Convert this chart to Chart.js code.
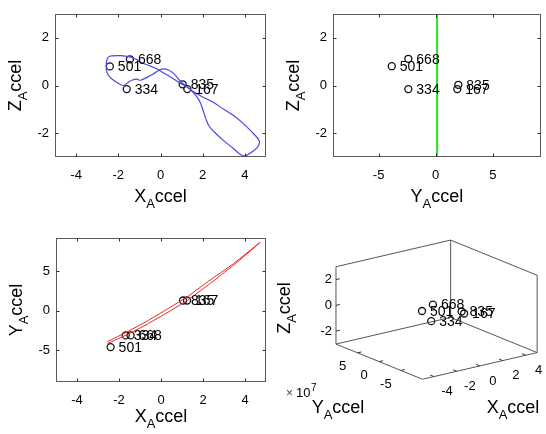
<!DOCTYPE html>
<html>
<head>
<meta charset="utf-8">
<script src="https://cdn.jsdelivr.net/npm/chart.js@4/dist/chart.umd.min.js"></script>
<style>
  body { margin: 0; background: #fff; }
  .panel { position: absolute; width: 273px; height: 217px; }
  canvas { display: block; }
</style>
</head>
<body>
<div class="panel" style="left:0;top:0"><canvas id="xz" width="273" height="217"></canvas></div>
<div class="panel" style="left:273px;top:0"><canvas id="yz" width="273" height="217"></canvas></div>
<div class="panel" style="left:0;top:217px"><canvas id="xy" width="273" height="217"></canvas></div>
<div class="panel" style="left:273px;top:217px"><canvas id="xyz" width="273" height="217"></canvas></div>
<script>
// --- data ---
const markLabels = ['167', '334', '501', '668', '835'];

// X-Z panel (top left)
const xzX = [1.27, -1.6, -2.4, -1.45, 1.05];
const xzZ = [-0.15, -0.15, 0.8, 1.1, 0.05];
const blueX = [1.40, 1.15, 0.92, 0.61, 0.35, 0.15, -0.05, -0.35, -0.65, -0.95, -1.13, -1.30, -1.52, -1.76,
  -2.05, -2.39, -2.55, -2.57, -2.55, -2.46, -2.30, -1.90, -1.45, -1.15, -0.95, -0.55, -0.18, 0.15, 0.45,
  0.75, 1.00, 1.25, 1.55, 2.00, 2.50, 3.00, 3.45, 3.90, 4.35, 4.68, 4.62, 4.35, 4.05, 3.85, 3.45, 2.95,
  2.55, 2.30, 2.15, 2.02, 1.88, 1.68, 1.40];
const blueZ = [-0.15, 0.02, 0.20, 0.52, 0.66, 0.70, 0.66, 0.48, 0.34, 0.22, 0.27, 0.24, 0.14, 0.00,
  0.12, 0.34, 0.58, 0.85, 1.05, 1.20, 1.24, 1.25, 1.20, 1.10, 0.98, 0.84, 0.70, 0.52, 0.37,
  0.20, 0.06, -0.06, -0.25, -0.48, -0.70, -1.00, -1.25, -1.58, -1.97, -2.32, -2.56, -2.78, -2.94, -2.93, -2.64, -2.28,
  -1.95, -1.70, -1.40, -1.05, -0.70, -0.42, -0.15];

// Y-Z panel (top right)
const yzY = [1.89, -2.4, -3.85, -2.4, 1.98];
const yzZ = [-0.15, -0.15, 0.81, 1.12, 0.03];
const greenY = [0.12, 0.12];
const greenZ = [-3.2, 3.2];

// X-Y panel (bottom left)
const xyX = [1.24, -1.68, -2.4, -1.45, 1.05];
const xyY = [1.3, -3.11, -4.59, -3.11, 1.3];
const redX = [-2.55, -1.60, -0.66, 0.29, 1.24, 2.19, 3.45, 4.72, 4.70, 3.45, 2.19, 1.24, 0.29, -0.66, -1.60, -2.55];
const redY = [-3.90, -2.65, -1.30, 0.20, 1.75, 3.60, 5.95, 8.65, 8.58, 5.75, 3.15, 1.30, -0.25, -1.70, -3.00, -4.15];

// 3D panel (bottom right), Y in units of 1e7
const d3X = [1.27, -1.6, -2.4, -1.45, 1.05];
const d3Y = [-3, -3, -3, -3, -3];
const d3Z = [-0.15, -0.15, 0.8, 1.1, 0.05];
const xLim3 = [-5, 5], yLim3 = [-10, 10], zLim3 = [-3, 3];
const xTicks3 = [-4, -2, 0, 2, 4], yTicks3 = [-5, 0, 5], zTicks3 = [-2, 0, 2];

const FONT = '"Liberation Sans", Arial, Helvetica, sans-serif';
const INK = '#000';

function pts(xs, ys) { return xs.map((v, i) => ({ x: v, y: ys[i] })); }

// label like X_A ccel, centred at (x, y) on the baseline
function subLabel(ctx, x, y, parts, rot) {
  const [a, s, b] = parts;
  ctx.save();
  ctx.translate(x, y);
  if (rot) ctx.rotate(-Math.PI / 2);
  ctx.fillStyle = INK;
  ctx.textBaseline = 'alphabetic';
  ctx.textAlign = 'left';
  ctx.font = '18px ' + FONT;
  const w1 = ctx.measureText(a).width, w3 = ctx.measureText(b).width;
  ctx.font = '13px ' + FONT;
  const w2 = ctx.measureText(s).width;
  let cx = -(w1 + w2 + w3) / 2;
  ctx.font = '18px ' + FONT; ctx.fillText(a, cx, 0); cx += w1;
  ctx.font = '13px ' + FONT; ctx.fillText(s, cx, 6); cx += w2;
  ctx.font = '18px ' + FONT; ctx.fillText(b, cx, 0);
  ctx.restore();
}

function markText(ctx, px, py, txt) {
  ctx.font = '14px ' + FONT;
  ctx.fillStyle = INK;
  ctx.textAlign = 'left';
  ctx.textBaseline = 'middle';
  ctx.fillText(txt, px + 8, py + 1);
}

// box, inward ticks, point labels and titles for the 2D panels
const frame = {
  id: 'frame',
  afterDraw(chart, args, o) {
    const { ctx, chartArea: a, scales: { x, y } } = chart;
    ctx.save();
    ctx.strokeStyle = '#5a5a5a';
    ctx.lineWidth = 1;
    const L = Math.round(a.left) + 0.5, R = Math.round(a.right) - 0.5;
    const T = Math.round(a.top) + 0.5, B = Math.round(a.bottom) - 0.5;
    ctx.strokeRect(L, T, R - L, B - T);
    ctx.strokeStyle = '#333';
    ctx.beginPath();
    x.ticks.forEach(t => {
      const p = Math.round(x.getPixelForValue(t.value)) + 0.5;
      ctx.moveTo(p, B); ctx.lineTo(p, B - 3);
      ctx.moveTo(p, T); ctx.lineTo(p, T + 3);
    });
    y.ticks.forEach(t => {
      const p = Math.round(y.getPixelForValue(t.value)) + 0.5;
      ctx.moveTo(L, p); ctx.lineTo(L + 3, p);
      ctx.moveTo(R, p); ctx.lineTo(R - 3, p);
    });
    ctx.stroke();
    const meta = chart.getDatasetMeta(1);
    meta.data.forEach((el, i) => markText(ctx, el.x, el.y, markLabels[i]));
    subLabel(ctx, (a.left + a.right) / 2, a.bottom + o.xTitleGap, o.xTitle, false);
    subLabel(ctx, a.left - 34, (a.top + a.bottom) / 2, o.yTitle, true);
    ctx.restore();
  }
};

function planar(id, o) {
  const tickFont = { family: FONT, size: 13 };
  return new Chart(document.getElementById(id), {
    type: 'scatter',
    data: {
      datasets: [
        { data: o.curve, showLine: true, borderColor: o.color, borderWidth: o.lineWidth,
          pointRadius: 0, tension: o.tension, fill: false },
        { data: o.marks, showLine: false, pointRadius: 3.5, pointBorderWidth: 1.3,
          pointBorderColor: '#111', pointBackgroundColor: 'rgba(0,0,0,0)' }
      ]
    },
    options: {
      responsive: false,
      animation: false,
      events: [],
      layout: { padding: { left: 0, top: o.padTop, right: o.padRight, bottom: 0 } },
      plugins: {
        legend: { display: false },
        tooltip: { enabled: false },
        frame: { xTitle: o.xTitle, yTitle: o.yTitle, xTitleGap: o.xTitleGap }
      },
      scales: {
        x: {
          type: 'linear', min: o.xLim[0], max: o.xLim[1],
          grid: { display: false, drawTicks: false }, border: { display: false },
          ticks: { font: tickFont, color: INK, padding: 11, autoSkip: false, maxRotation: 0,
            callback: v => String(v) },
          afterBuildTicks: s => { s.ticks = o.xTicks.map(v => ({ value: v })); },
          afterFit: s => { s.height = o.xHeight; }
        },
        y: {
          type: 'linear', min: o.yLim[0], max: o.yLim[1],
          grid: { display: false, drawTicks: false }, border: { display: false },
          ticks: { font: tickFont, color: INK, padding: 6, autoSkip: false,
            callback: v => String(v) },
          afterBuildTicks: s => { s.ticks = o.yTicks.map(v => ({ value: v })); },
          afterFit: s => { s.width = o.yWidth; }
        }
      }
    },
    plugins: [frame]
  });
}

planar('xz', {
  curve: pts(blueX, blueZ), color: 'rgb(72,72,228)', lineWidth: 1.2, tension: 0.35,
  marks: pts(xzX, xzZ),
  xLim: [-5, 5], yLim: [-3, 3], xTicks: [-4, -2, 0, 2, 4], yTicks: [-2, 0, 2],
  padTop: 14, padRight: 7, xHeight: 60, yWidth: 55,
  xTitle: ['X', 'A', 'ccel'], yTitle: ['Z', 'A', 'ccel'], xTitleGap: 45
});

planar('yz', {
  curve: pts(greenY, greenZ), color: 'rgb(40,225,40)', lineWidth: 2, tension: 0,
  marks: pts(yzY, yzZ),
  xLim: [-9, 9.2], yLim: [-3, 3], xTicks: [-5, 0, 5], yTicks: [-2, 0, 2],
  padTop: 14, padRight: 3.5, xHeight: 60, yWidth: 60,
  xTitle: ['Y', 'A', 'ccel'], yTitle: ['Z', 'A', 'ccel'], xTitleGap: 45
});

planar('xy', {
  curve: pts(redX, redY), color: 'rgb(230,35,35)', lineWidth: 1, tension: 0.1,
  marks: pts(xyX, xyY),
  xLim: [-5, 5], yLim: [-9, 9.2], xTicks: [-4, -2, 0, 2, 4], yTicks: [-5, 0, 5],
  padTop: 21, padRight: 7, xHeight: 52, yWidth: 56,
  xTitle: ['X', 'A', 'ccel'], yTitle: ['Y', 'A', 'ccel'], xTitleGap: 40
});

// --- 3D panel: simple fixed oblique projection onto the canvas ---
const view = { ox: 150, oy: 165, ex: [11.93, -2.8], ey: [-4.5, -1.85], ez: [0, -13.55] };
function proj(X, Y, Z) {
  const a = X - xLim3[0], b = Y - yLim3[0], c = Z - zLim3[0];
  return {
    x: view.ox + a * view.ex[0] + b * view.ey[0] + c * view.ez[0],
    y: view.oy + a * view.ex[1] + b * view.ey[1] + c * view.ez[1]
  };
}
const [x0, x1] = xLim3, [y0, y1] = yLim3, [z0, z1] = zLim3;
const edges = [
  [[x0, y0, z0], [x1, y0, z0]], [[x0, y0, z0], [x0, y1, z0]],
  [[x0, y1, z0], [x1, y1, z0]], [[x1, y0, z0], [x1, y1, z0]],
  [[x0, y1, z0], [x0, y1, z1]], [[x1, y1, z0], [x1, y1, z1]], [[x1, y0, z0], [x1, y0, z1]],
  [[x0, y1, z1], [x1, y1, z1]], [[x1, y0, z1], [x1, y1, z1]]
];

const box3d = {
  id: 'box3d',
  afterDraw(chart) {
    const { ctx, scales: { x, y } } = chart;
    const P = (X, Y, Z) => { const p = proj(X, Y, Z); return [x.getPixelForValue(p.x), y.getPixelForValue(p.y)]; };
    const unit = v => { const n = Math.hypot(v[0], v[1]); return [v[0] / n, v[1] / n]; };
    const ux = unit(view.ex), uy = unit(view.ey);
    ctx.save();
    ctx.strokeStyle = '#333';
    ctx.lineWidth = 1;
    ctx.font = '13px ' + FONT;
    ctx.fillStyle = INK;
    ctx.textBaseline = 'middle';
    ctx.beginPath();
    zTicks3.forEach(z => { const [px, py] = P(x0, y1, z); ctx.moveTo(px, py); ctx.lineTo(px + 4 * ux[0], py + 4 * ux[1]); });
    yTicks3.forEach(v => { const [px, py] = P(x0, v, z0); ctx.moveTo(px, py); ctx.lineTo(px + 4 * ux[0], py + 4 * ux[1]); });
    xTicks3.forEach(v => { const [px, py] = P(v, y0, z0); ctx.moveTo(px, py); ctx.lineTo(px + 4 * uy[0], py + 4 * uy[1]); });
    ctx.stroke();
    ctx.textAlign = 'right';
    zTicks3.forEach(z => { const [px, py] = P(x0, y1, z); ctx.fillText(String(z), px - 4, py); });
    ctx.textAlign = 'center';
    yTicks3.forEach(v => { const [px, py] = P(x0, v, z0); ctx.fillText(String(v), px - 15, py + 14); });
    xTicks3.forEach(v => { const [px, py] = P(v, y0, z0); ctx.fillText(String(v), px + 13, py + 15); });
    // exponent note for the Y axis
    ctx.textAlign = 'left';
    ctx.textBaseline = 'alphabetic';
    ctx.fillStyle = '#444';
    ctx.font = '12px ' + FONT;
    ctx.fillText('\u00d7', 13, 180);
    ctx.fillStyle = INK;
    ctx.font = '13px ' + FONT;
    ctx.fillText('10', 23, 180);
    ctx.font = '10px ' + FONT;
    ctx.fillText('7', 38, 174);
    chart.getDatasetMeta(edges.length).data.forEach((el, i) => markText(ctx, el.x, el.y, markLabels[i]));
    subLabel(ctx, 65, 196, ['Y', 'A', 'ccel'], false);
    subLabel(ctx, 240, 196, ['X', 'A', 'ccel'], false);
    subLabel(ctx, 17, 91, ['Z', 'A', 'ccel'], true);
    ctx.restore();
  }
};

const boxSets = edges.map(e => ({
  data: e.map(c => proj(c[0], c[1], c[2])), showLine: true,
  borderColor: '#555', borderWidth: 1, pointRadius: 0
}));
const markSet = {
  data: d3X.map((v, i) => proj(v, d3Y[i], d3Z[i])), showLine: false,
  pointRadius: 3.5, pointBorderWidth: 1.3, pointBorderColor: '#111', pointBackgroundColor: 'rgba(0,0,0,0)'
};

new Chart(document.getElementById('xyz'), {
  type: 'scatter',
  data: { datasets: boxSets.concat([markSet]) },
  options: {
    responsive: false,
    animation: false,
    events: [],
    layout: { padding: 0 },
    plugins: { legend: { display: false }, tooltip: { enabled: false } },
    scales: {
      x: { type: 'linear', min: 0, max: 273, display: false },
      y: { type: 'linear', min: 0, max: 217, reverse: true, display: false }
    }
  },
  plugins: [box3d]
});
</script>
</body>
</html>
